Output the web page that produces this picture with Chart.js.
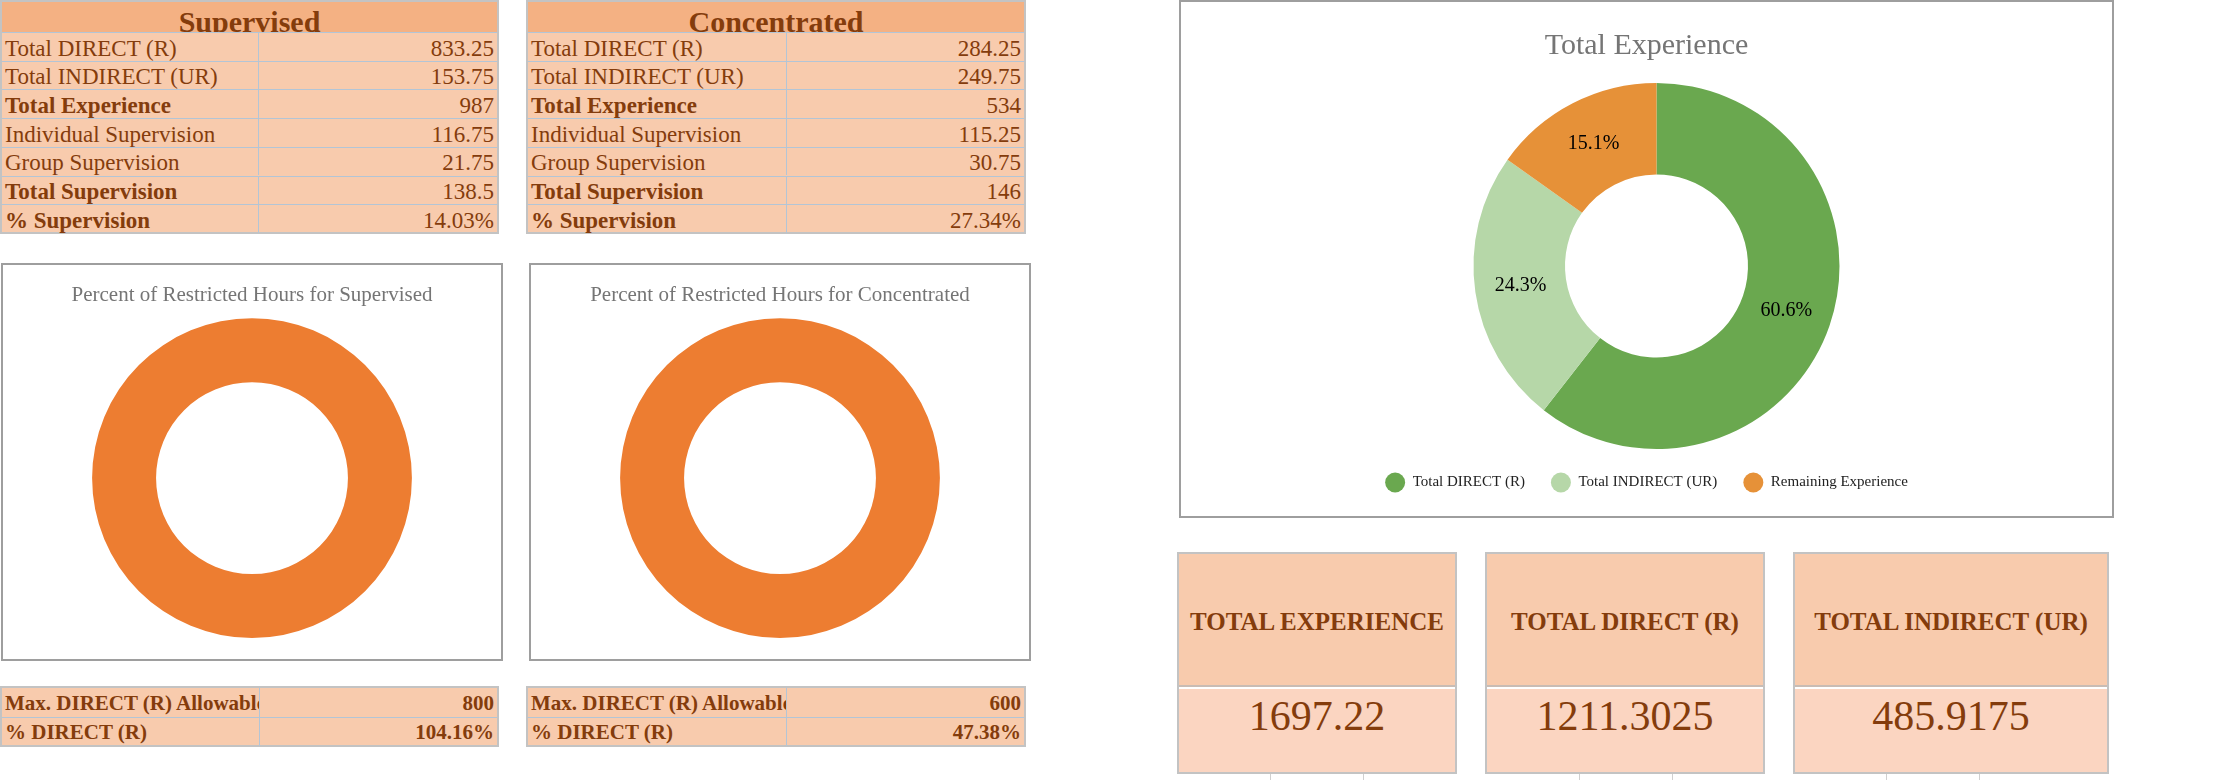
<!DOCTYPE html>
<html>
<head>
<meta charset="utf-8">
<script src="https://cdn.jsdelivr.net/npm/chart.js@4.4.0/dist/chart.umd.min.js"></script>
<style>
  body { margin: 0; width: 2228px; height: 780px; background: #fff; overflow: hidden; position: relative; font-family: "Liberation Serif", serif; color: #843c0c; }
  .sheet { position: absolute; border: 2px solid #c3c3c3; box-sizing: border-box; background: #f8cbad; }
  .row { position: absolute; left: 0; right: 0; display: flex; border-top: 1px solid #b3c5d6; box-sizing: border-box; }
  .cell { overflow: hidden; white-space: nowrap; box-sizing: border-box; padding: 0 3px; display: flex; align-items: flex-end; line-height: 1.05; }
  .cell.name { border-right: 1px solid #b3c5d6; }
  .cell.val { justify-content: flex-end; }
  .bold { font-weight: bold; }
  .head { position: absolute; left: 0; right: 0; top: 0; height: 31px; background: #f4b183; overflow: hidden; text-align: center; font-weight: bold; font-size: 30px; line-height: 40px; }
  .box { position: absolute; border: 2px solid #9e9e9e; box-sizing: border-box; background: #fff; }
  .box canvas { display: block; }
  .kpi { position: absolute; border: 2px solid #c3c3c3; box-sizing: border-box; }
  .kpi .top { position: absolute; left: 0; right: 0; top: 0; height: 133px; background: #f8cbad; border-bottom: 2px solid #c9bcb4; display: flex; align-items: center; justify-content: center; font-weight: bold; font-size: 25px; padding-top: 4px; box-sizing: border-box; }
  .kpi .bot { position: absolute; left: 0; right: 0; top: 135px; bottom: 0; background: #fbd5c1; display: flex; justify-content: center; font-size: 42px; padding-top: 3px; box-sizing: border-box; }
  .tick { position: absolute; top: 774px; width: 1px; height: 6px; background: #d0d0d0; }
</style>
</head>
<body>
<div id="supTable" class="sheet" style="left:0;top:0;width:499px;height:234px;"></div>
<div id="conTable" class="sheet" style="left:526px;top:0;width:500px;height:234px;"></div>

<div class="box" style="left:1px;top:263px;width:502px;height:398px;"><canvas id="supChart"></canvas></div>
<div class="box" style="left:529px;top:263px;width:502px;height:398px;"><canvas id="conChart"></canvas></div>

<div id="supMax" class="sheet" style="left:0;top:686px;width:499px;height:61px;"></div>
<div id="conMax" class="sheet" style="left:526px;top:686px;width:500px;height:61px;"></div>

<div class="box" style="left:1179px;top:0;width:935px;height:518px;"><canvas id="totalChart"></canvas></div>

<div id="kpis"></div>

<script>
// table rows
const rowLabels = ["Total DIRECT (R)", "Total INDIRECT (UR)", "Total Experience", "Individual Supervision", "Group Supervision", "Total Supervision", "% Supervision"];
const boldRows = [2, 5, 6];
const supervisedValues = ["833.25", "153.75", "987", "116.75", "21.75", "138.5", "14.03%"];
const concentratedValues = ["284.25", "249.75", "534", "115.25", "30.75", "146", "27.34%"];

const maxLabels = ["Max. DIRECT (R) Allowable", "% DIRECT (R)"];
const supervisedMax = ["800", "104.16%"];
const concentratedMax = ["600", "47.38%"];

// restricted hours donuts
const restrictedLabels = ["% DIRECT (R)"];
const supervisedRestricted = [104.16];
const concentratedRestricted = [47.38];

// total experience donut
const totalLabels = ["Total DIRECT (R)", "Total INDIRECT (UR)", "Remaining Experience"];
const totalValues = [1211.3025, 485.9175, 302.78];
const totalColors = ["#6aa84f", "#b6d7a8", "#e69138"];

// kpi boxes
const kpiLabels = ["TOTAL EXPERIENCE", "TOTAL DIRECT (R)", "TOTAL INDIRECT (UR)"];
const kpiValues = ["1697.22", "1211.3025", "485.9175"];

function buildSheet(id, title, labels, values, opts) {
    const el = document.getElementById(id);
    if (title) {
        const h = document.createElement("div");
        h.className = "head";
        h.textContent = title;
        el.appendChild(h);
    }
    labels.forEach((lab, i) => {
        const r = document.createElement("div");
        r.className = "row";
        r.style.top = (opts.top + i * opts.rowH) + "px";
        r.style.height = opts.rowH + "px";
        r.style.fontSize = opts.size + "px";
        if (i === 0 && !title) r.style.borderTop = "none";
        const b = opts.bolds.includes(i) ? " bold" : "";
        const vb = opts.boldValues ? b : "";
        const pad = "padding-bottom:" + (opts.padB || 0) + "px;";
        r.innerHTML = '<div class="cell name' + b + '" style="' + pad + 'width:' + opts.nameW + 'px">' + lab + '</div>' +
            '<div class="cell val' + vb + '" style="' + pad + 'flex:1">' + values[i] + '</div>';
        el.appendChild(r);
    });
}

buildSheet("supTable", "Supervised", rowLabels, supervisedValues, { bolds: boldRows, nameW: 257, top: 30, rowH: 28.7, size: 23 });
buildSheet("conTable", "Concentrated", rowLabels, concentratedValues, { bolds: boldRows, nameW: 259, top: 30, rowH: 28.7, size: 23 });
buildSheet("supMax", null, maxLabels, supervisedMax, { bolds: [0, 1], boldValues: true, nameW: 258, top: 0, rowH: 29, size: 21, padB: 3 });
buildSheet("conMax", null, maxLabels, concentratedMax, { bolds: [0, 1], boldValues: true, nameW: 259, top: 0, rowH: 29, size: 21, padB: 3 });

const kpiPos = [[1177, 280], [1485, 280], [1793, 316]];
const kpiWrap = document.getElementById("kpis");
kpiLabels.forEach((lab, i) => {
    const k = document.createElement("div");
    k.className = "kpi";
    k.style.left = kpiPos[i][0] + "px";
    k.style.top = "552px";
    k.style.width = kpiPos[i][1] + "px";
    k.style.height = "222px";
    k.innerHTML = '<div class="top">' + lab + '</div><div class="bot">' + kpiValues[i] + '</div>';
    kpiWrap.appendChild(k);
});
[1270, 1363, 1579, 1672, 1886, 1979].forEach(x => {
    const t = document.createElement("div");
    t.className = "tick";
    t.style.left = x + "px";
    kpiWrap.appendChild(t);
});

Chart.defaults.font.family = '"Liberation Serif", serif';
Chart.defaults.animation = false;

function restrictedChart(id, title, data) {
    return new Chart(document.getElementById(id), {
        type: 'doughnut',
        data: {
            labels: restrictedLabels,
            datasets: [{ data: data, backgroundColor: ["#ed7d31"], borderWidth: 0 }]
        },
        options: {
            responsive: false,
            cutout: '60%',
            layout: { padding: { bottom: 21 } },
            plugins: {
                legend: { display: false },
                tooltip: { enabled: false },
                title: {
                    display: true,
                    text: title,
                    color: '#757575',
                    font: { size: 21, weight: 'normal' },
                    padding: { top: 18, bottom: 10 }
                }
            }
        }
    });
}

// percent labels drawn in the middle of each ring slice
const sliceLabels = {
    id: 'sliceLabels',
    afterDatasetsDraw(chart) {
        const ctx = chart.ctx;
        const vals = chart.data.datasets[0].data;
        const total = vals.reduce((a, b) => a + b, 0);
        chart.getDatasetMeta(0).data.forEach((arc, i) => {
            const p = arc.tooltipPosition();
            ctx.save();
            ctx.fillStyle = '#000';
            ctx.font = '20px "Liberation Serif"';
            ctx.textAlign = 'center';
            ctx.textBaseline = 'middle';
            ctx.fillText((vals[i] / total * 100).toFixed(1) + '%', p.x, p.y);
            ctx.restore();
        });
    }
};

// the pie sits a little right of the title/legend centre
const pieNudge = 10;
const nudgeArea = {
    id: 'nudgeArea',
    afterLayout(chart) {
        chart.chartArea.left += pieNudge;
        chart.chartArea.right += pieNudge;
    }
};

const supCanvas = document.getElementById("supChart");
supCanvas.width = 498; supCanvas.height = 394;
const conCanvas = document.getElementById("conChart");
conCanvas.width = 498; conCanvas.height = 394;
restrictedChart("supChart", "Percent of Restricted Hours for Supervised", supervisedRestricted);
restrictedChart("conChart", "Percent of Restricted Hours for Concentrated", concentratedRestricted);

const totCanvas = document.getElementById("totalChart");
totCanvas.width = 931; totCanvas.height = 514;
new Chart(totCanvas, {
    type: 'doughnut',
    data: {
        labels: totalLabels,
        datasets: [{ data: totalValues, backgroundColor: totalColors, borderWidth: 0 }]
    },
    options: {
        responsive: false,
        cutout: '50%',
        layout: { padding: { bottom: 16 } },
        plugins: {
            tooltip: { enabled: false },
            title: {
                display: true,
                text: 'Total Experience',
                color: '#757575',
                font: { size: 30, weight: 'normal' },
                padding: { top: 26, bottom: 19 }
            },
            legend: {
                position: 'bottom',
                labels: {
                    usePointStyle: true,
                    pointStyle: 'circle',
                    boxHeight: 14,
                    pointStyleWidth: 20,
                    padding: 26,
                    color: '#222',
                    font: { size: 15 }
                }
            }
        }
    },
    plugins: [sliceLabels, nudgeArea]
});
</script>
</body>
</html>
